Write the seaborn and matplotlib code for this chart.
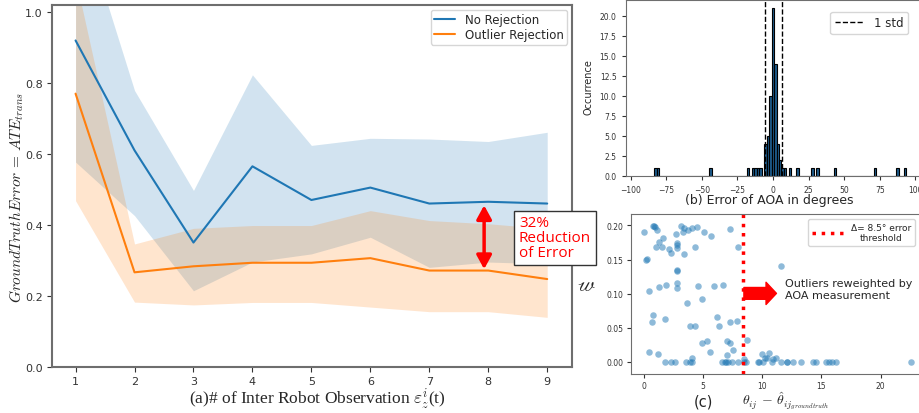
import matplotlib
matplotlib.use("Agg")
import matplotlib.pyplot as plt
import numpy as np
import pandas as pd
import seaborn as sns

# (a) ATE vs number of inter robot observations
n_obs = [1, 2, 3, 4, 5, 6, 7, 8, 9]
no_rej_mean = [0.92, 0.61, 0.35, 0.565, 0.47, 0.505, 0.46, 0.465, 0.46]
no_rej_low = [0.577, 0.426, 0.214, 0.295, 0.318, 0.365, 0.28, 0.295, 0.29]
no_rej_high = [1.31, 0.779, 0.497, 0.823, 0.624, 0.644, 0.642, 0.635, 0.661]
out_rej_mean = [0.77, 0.266, 0.283, 0.293, 0.293, 0.306, 0.271, 0.271, 0.247]
out_rej_low = [0.468, 0.182, 0.174, 0.181, 0.181, 0.168, 0.155, 0.155, 0.139]
out_rej_high = [1.095, 0.346, 0.39, 0.398, 0.398, 0.44, 0.412, 0.403, 0.389]
series_names = ["No Rejection", "Outlier Rejection"]

# (b) histogram of AOA error (bar position in degrees, count)
aoa_err = [-82.2, -80.2, -44.1, -18.1, -14.1, -12.7, -11.3, -8.2, -6.0, -4.0,
           -2.0, -0.3, 1.5, 3.3, 5.0, 6.6, 8.2, 12.9, 18.1, 27.7, 30.9, 42.9,
           70.8, 86.8, 91.9]
aoa_count = [1, 1, 1, 1, 1, 1, 1, 1, 4, 5, 10, 21, 14, 4, 2, 1, 1, 1, 1, 1, 1,
             1, 1, 1, 1]
std_lines = [-6.0, 6.0]

# (c) weight vs AOA error
theta_err = [0.0, 0.75, 0.85, 0.95, 1.07, 3.1, 3.38, 3.75, 4.03, 4.5, 5.07,
             3.32, 2.68, 5.63, 7.27, 1.3, 1.63, 1.01, 1.55, 2.14, 2.25, 2.76,
             2.82, 2.8, 3.38, 4.31, 0.2, 0.25, 7.97, 2.76, 2.76, 11.55, 2.76,
             2.82, 1.3, 1.86, 0.45, 4.59, 5.92, 6.7, 3.66, 4.93, 0.73, 0.65,
             1.77, 3.89, 4.34, 6.2, 6.37, 7.27, 7.83, 8.68, 4.93, 5.35, 7.04,
             7.27, 7.49, 5.58, 6.99, 0.42, 1.21, 9.94, 10.56, 4.1, 8.48, 10.2,
             10.4, 10.9, 11.2,
             1.78, 2.28, 2.65, 3.58, 3.9, 4.1, 6.57, 6.85, 6.95, 7.13, 7.45,
             7.92, 8.48, 8.6, 9.61, 9.72, 10.09, 10.8, 11.55, 12.05, 12.1,
             12.6, 13.3, 14.3, 14.5, 15.4, 15.64, 15.9, 16.2, 22.6]
weight = [0.19, 0.199, 0.199, 0.197, 0.194, 0.199, 0.196, 0.194, 0.196, 0.198,
          0.191, 0.19, 0.187, 0.185, 0.195, 0.176, 0.181, 0.169, 0.169, 0.166,
          0.159, 0.167, 0.172, 0.174, 0.158, 0.168, 0.15, 0.151, 0.168, 0.133,
          0.134, 0.141, 0.116, 0.108, 0.11, 0.112, 0.104, 0.111, 0.111, 0.112,
          0.086, 0.092, 0.069, 0.058, 0.062, 0.052, 0.053, 0.066, 0.053, 0.059,
          0.06, 0.032, 0.027, 0.03, 0.031, 0.027, 0.017, 0.014, 0.01, 0.014,
          0.011, 0.012, 0.013, 0.005, 0.004, 0.005, 0.005, 0.004, 0.005,
          0, 0, 0, 0, 0, 0, 0, 0, 0, 0, 0, 0, 0, 0, 0, 0, 0, 0, 0, 0, 0, 0, 0,
          0, 0, 0, 0, 0, 0, 0]
threshold = 8.4

blue = "#1f77b4"
orange = "#ff7f0e"
spine_gray = "#6e6e6e"

sns.set_style("ticks")
plt.rcParams["font.family"] = ["DejaVu Sans"]
plt.rcParams["mathtext.fontset"] = "cm"

fig = plt.figure(figsize=(9.2, 4.14), dpi=100)
ax_a = fig.add_axes([0.0565, 0.112, 0.5652, 0.8735])
ax_b = fig.add_axes([0.680, 0.573, 0.32, 0.425])
ax_c = fig.add_axes([0.6855, 0.094, 0.3145, 0.3867])

# ---- (a)
df_a = pd.DataFrame({
    "obs": n_obs * 2,
    "err": no_rej_mean + out_rej_mean,
    "method": [series_names[0]] * len(n_obs) + [series_names[1]] * len(n_obs),
})
sns.lineplot(data=df_a, x="obs", y="err", hue="method",
             palette=[blue, orange], lw=1.5, ax=ax_a)
ax_a.fill_between(n_obs, no_rej_low, no_rej_high, color=blue, alpha=0.2, lw=0)
ax_a.fill_between(n_obs, out_rej_low, out_rej_high, color=orange, alpha=0.2, lw=0)
ax_a.set_xlim(0.6, 9.42)
ax_a.set_ylim(0, 1.02)
ax_a.set_xticks(n_obs)
ax_a.set_yticks([0.0, 0.2, 0.4, 0.6, 0.8, 1.0])
ax_a.set_xlabel("")
ax_a.set_ylabel("")
ax_a.tick_params(labelsize=8, colors="#333333", length=3.5, pad=3)
for sp in ax_a.spines.values():
    sp.set_color(spine_gray)
    sp.set_linewidth(1.5)
h, l = ax_a.get_legend_handles_labels()
ax_a.legend(h, l, loc="upper right", fontsize=8.5, handlelength=1.8,
            borderaxespad=0.4, labelspacing=0.15, borderpad=0.3)

ax_a.annotate("", xy=(7.93, 0.455), xytext=(7.93, 0.275),
              arrowprops=dict(arrowstyle="<|-|>,head_width=0.3,head_length=0.55",
                              color="red", lw=2.5, shrinkA=0, shrinkB=0,
                              mutation_scale=15))
ax_a.text(8.52, 0.363, "32%\nReduction\nof Error", color="red", fontsize=11,
          family=["Open Sans", "DejaVu Sans"], va="center", ha="left",
          linespacing=1.0, clip_on=False, zorder=5,
          bbox=dict(boxstyle="square,pad=0.3", fc="white", ec="#333333", lw=1))

fig.text(0.018, 0.522, r"$GroundTruthError\,=\,ATE_{trans}$", rotation=90,
         ha="center", va="center", fontsize=11)
fig.text(0.3446, 0.036, r"(a)# of Inter Robot Observation $\varepsilon_{z}^{i}$(t)",
         ha="center", va="center", fontsize=12.5,
         family=["Liberation Serif", "DejaVu Serif"])

# ---- (b)
df_b = pd.DataFrame({"err": aoa_err, "count": aoa_count})
sns.histplot(data=df_b, x="err", weights="count",
             binwidth=1.75, binrange=(-83.35, 93.4),
             color="#1d5a8a", edgecolor="black", linewidth=0.8, alpha=1,
             ax=ax_b)
ax_b.axvline(std_lines[0], ls="--", color="black", lw=1, label="1 std")
ax_b.axvline(std_lines[1], ls="--", color="black", lw=1)
ax_b.set_xlim(-103.6, 103.2)
ax_b.set_ylim(0, 22)
ax_b.set_xticks([-100, -75, -50, -25, 0, 25, 50, 75, 100])
ax_b.set_yticks(np.arange(0, 20.1, 2.5))
ax_b.set_yticklabels([f"{v:.1f}" for v in np.arange(0, 20.1, 2.5)])
ax_b.set_xlabel("")
ax_b.set_ylabel("")
ax_b.tick_params(labelsize=5.5, colors="#333333", length=3)
ax_b.spines["right"].set_visible(False)
for sp in ax_b.spines.values():
    sp.set_color(spine_gray)
ax_b.legend(loc="upper right", fontsize=8.5, handlelength=2.5,
            borderaxespad=1.0)
fig.text(0.640, 0.79, "Occurrence", rotation=90, ha="center", va="center",
         fontsize=7)
fig.text(769 / 920, 0.515, "(b) Error of AOA in degrees", ha="center",
         va="center", fontsize=9)

# ---- (c)
df_c = pd.DataFrame({"theta": theta_err, "w": weight})
sns.scatterplot(data=df_c, x="theta", y="w", color=blue, alpha=0.5, s=22,
                linewidth=0, ax=ax_c)
ax_c.axvline(threshold, color="red", ls=":", lw=2.5,
             label="Δ= 8.5° error\nthreshold")
ax_c.set_xlim(-1.12, 23.33)
ax_c.set_ylim(-0.0181, 0.2168)
ax_c.set_xticks([0, 5, 10, 15, 20])
ax_c.set_yticks([0.0, 0.05, 0.10, 0.15, 0.20])
ax_c.set_yticklabels(["0.00", "0.05", "0.10", "0.15", "0.20"])
ax_c.set_xlabel("")
ax_c.set_ylabel("")
ax_c.tick_params(labelsize=5.5, colors="#333333", length=3, pad=2)
ax_c.spines["right"].set_visible(False)
for sp in ax_c.spines.values():
    sp.set_color(spine_gray)
leg_c = ax_c.legend(loc="upper right", fontsize=6.5, handlelength=3.5,
                    borderaxespad=0.6)
for t in leg_c.get_texts():
    t.set_multialignment("center")
ax_c.annotate("", xy=(11.2, 0.1003), xytext=(threshold + 0.05, 0.1003),
              arrowprops=dict(arrowstyle="simple,head_width=1.6,head_length=0.75,tail_width=0.85",
                              color="red", shrinkA=0, shrinkB=0))
ax_c.text(11.9, 0.1065, "Outliers reweighted by\nAOA measurement",
          fontsize=8, va="center", ha="left", linespacing=1.3)
fig.text(0.637, 0.307, "𝓌", ha="center", va="center", fontsize=14,
         family=["STIXGeneral", "DejaVu Sans"])
fig.text(703 / 920, 0.03, "(c)", ha="center", va="center", fontsize=10.5)
fig.text(786 / 920, 0.03, r"$\theta_{ij}\,-\,\hat{\theta}_{ij_{groundtruth}}$",
         ha="center", va="center", fontsize=10)

fig.savefig("out.png", dpi=100)
